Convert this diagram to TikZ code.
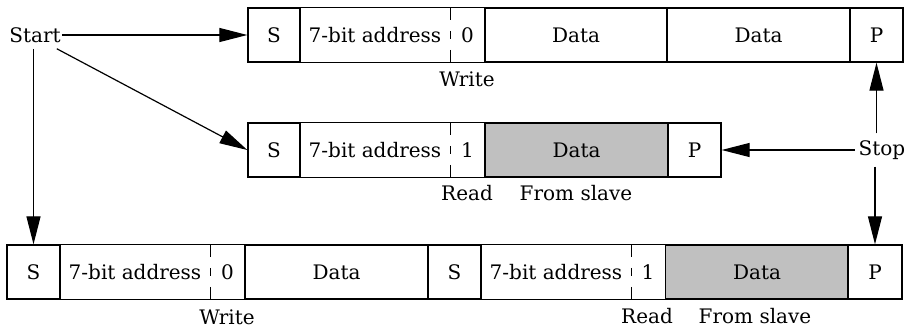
\documentclass[tikz,border=0pt]{standalone}
\usepackage{fontspec}
\setmainfont{DejaVu Serif}
\usetikzlibrary{arrows.meta}
\definecolor{slavegray}{HTML}{C0C0C0}
\begin{document}
\begin{tikzpicture}[x=1pt,y=-1pt,
  every node/.style={font=\fontsize{20}{24}\selectfont},
  cell/.style={draw, line width=1.3pt, minimum height=54pt, inner sep=0pt, anchor=center},
  blank/.style={minimum height=54pt, inner sep=0pt, anchor=center},
  grayc/.style={cell, fill=slavegray},
  lbl/.style={inner sep=1pt},
  conn/.style={line width=1.2pt, -{Triangle[length=28pt,width=14pt]}},
  frame/.style={line width=1.3pt},
  dashdiv/.style={line width=1.3pt, dash pattern=on 12pt off 11pt on 8pt off 11pt on 12pt off 0pt}]
\useasboundingbox (0,0) rectangle (906,329);

% Row 1
\node[cell, minimum width=52pt]  (s1)  at (274,35) {S};
\node[blank, minimum width=150pt] (a1) at (375,35) {7-bit address};
\node[blank, minimum width=35pt]  (b1) at (467.5,35) {0};
\node[cell, minimum width=182pt] (d1a) at (576,35) {Data};
\node[cell, minimum width=183pt] (d1b) at (758.5,35) {Data};
\node[cell, minimum width=53pt]  (p1)  at (876.5,35) {P};
\draw[frame] (a1.north west) rectangle (b1.south east);
\draw[dashdiv] (a1.north east) -- (a1.south east);
\node[lbl] (w1) at (467,79) {Write};

% Row 2
\node[cell, minimum width=52pt]  (s2)  at (274,150) {S};
\node[blank, minimum width=150pt] (a2) at (375,150) {7-bit address};
\node[blank, minimum width=35pt]  (b2) at (467.5,150) {1};
\node[grayc, minimum width=183pt] (d2) at (576.5,150) {Data};
\node[cell, minimum width=53pt]  (p2)  at (694.5,150) {P};
\draw[frame] (a2.north west) rectangle (b2.south east);
\draw[dashdiv] (a2.north east) -- (a2.south east);
\node[lbl] (r2) at (467,193) {Read};
\node[lbl] (f2) at (576,193) {From slave};

% Row 3
\node[cell, minimum width=53pt]  (s3)  at (33.5,272) {S};
\node[blank, minimum width=150pt] (a3) at (135,272) {7-bit address};
\node[blank, minimum width=35pt]  (b3) at (227.5,272) {0};
\node[cell, minimum width=183pt] (d3) at (336.5,272) {Data};
\node[cell, minimum width=53pt]  (s3b) at (454.5,272) {S};
\node[blank, minimum width=150pt] (a3b) at (556,272) {7-bit address};
\node[blank, minimum width=35pt]  (b3b) at (648,272) {1};
\node[grayc, minimum width=183pt] (d3b) at (757,272) {Data};
\node[cell, minimum width=54pt]  (p3)  at (875,272) {P};
\draw[frame] (a3.north west) rectangle (b3.south east);
\draw[dashdiv] (a3.north east) -- (a3.south east);
\draw[frame] (a3b.north west) rectangle (b3b.south east);
\draw[dashdiv] (a3b.north east) -- (a3b.south east);
\node[lbl] (w3) at (227,317) {Write};
\node[lbl] (r3) at (647,316) {Read};
\node[lbl] (f3) at (755,316) {From slave};

% Start / Stop
\node[inner xsep=1pt, inner ysep=6pt] (start) at (35,35) {Start};
\node[inner xsep=4pt, inner ysep=7pt] (stop) at (882,150) {Stop};
\coordinate (diag) at ([xshift=-5pt]start.south east);

\draw[conn] (start.east) -- (s1.west);
\draw[conn] (diag) -- (s2.west);
\draw[conn] (s3.north |- start.south) -- (s3.north);
\draw[conn] (p1.south |- stop.north) -- (p1.south);
\draw[conn] (stop.west) -- (p2.east);
\draw[conn] (p3.north |- stop.south) -- (p3.north);
\end{tikzpicture}
\end{document}
